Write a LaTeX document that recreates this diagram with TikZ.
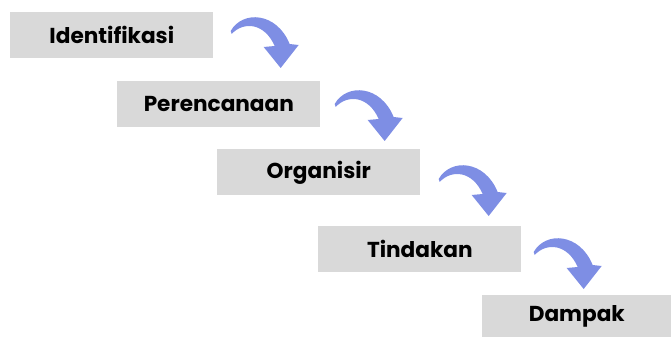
\documentclass[tikz,border=0pt]{standalone}
\usepackage{fontspec}
\setmainfont{Poppins}
\usetikzlibrary{calc}
\definecolor{cor_caixa}{HTML}{D9D9D9}
\definecolor{cor_seta}{HTML}{7E8EE4}

\begin{document}
\begin{tikzpicture}[x=0.02cm,y=-0.02cm]
        \tikzset{
            caixa/.style={
                fill=cor_caixa,
                minimum width=4.06cm,
                minimum height=0.92cm,
                inner sep=0pt,
                anchor=north west,
                font=\bfseries\fontsize{12.3}{14}\selectfont
            },
            seta/.pic={
                \fill[cor_seta] (0,-1) .. controls (12,-22) and (46,-20) .. (59,12)
                    -- (68,13) -- (50,36) -- (33,15) -- (44,14)
                    .. controls (34,-9) and (13,-11) .. (1,2) -- cycle;
            }
        }
        \useasboundingbox (0,0) rectangle (671,337);

        \node[caixa] (ident) at (10,12) {Identifikasi};
        \node[caixa] (peren) at (117,81) {Perencanaan};
        \node[caixa] (organ) at (217,149) {Organisir};
        \node[caixa] (tinda) at (318,226) {Tindakan};
        \node[caixa, minimum width=3.78cm, minimum height=0.84cm] (dampa) at (482,295) {Dampak};

        % setas entre as etapas
        \pic at ($(ident.north east)+(17,20)$) {seta};
        \pic at ($(peren.north east)+(14,24)$) {seta};
        \pic at ($(organ.north east)+(18,31)$) {seta};
        \pic at ($(tinda.north east)+(12,27)$) {seta};

    \end{tikzpicture}
\end{document}
